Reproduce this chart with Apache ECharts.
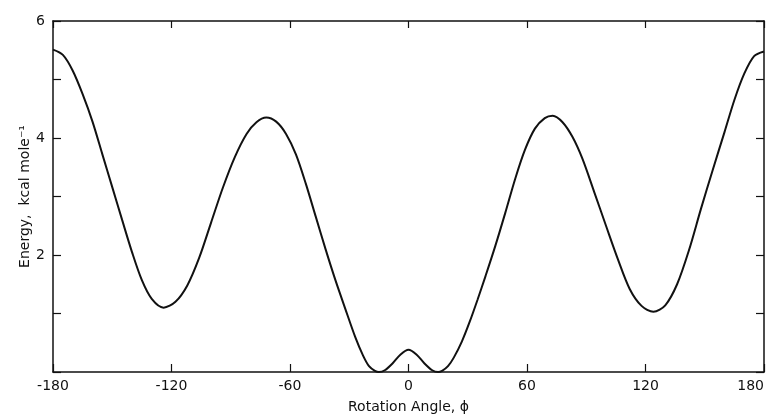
<!DOCTYPE html>
<html>
<head>
<meta charset="utf-8">
<script src="https://cdn.jsdelivr.net/npm/echarts@6/dist/echarts.min.js"></script>
<style>
  html, body { margin: 0; padding: 0; background: #fff; }
  #chart { width: 774px; height: 416px; }
</style>
</head>
<body>
<div id="chart"></div>
<script>
// rotation angle (deg)
const angles = [-180, -175, -170, -165, -160, -155, -150, -145, -140, -135,
  -130, -124, -118, -112, -106, -100, -94, -88, -82, -77, -72, -67, -62, -57,
  -52, -47, -42, -37, -32, -27, -23, -20, -17, -15, -12, -8, -4, 0, 4, 8, 12,
  15, 17, 20, 23, 27, 31, 35, 39, 44, 49, 54, 59, 64, 69, 73, 78, 83, 88, 94,
  100, 106, 112, 118, 124, 130, 136, 142, 148, 154, 160, 165, 170, 175, 180]
// energy, kcal/mole
const energies = [5.51, 5.42, 5.15, 4.75, 4.28, 3.72, 3.16, 2.60, 2.05, 1.57,
  1.25, 1.10, 1.20, 1.48, 1.95, 2.55, 3.15, 3.67, 4.07, 4.27, 4.35, 4.28, 4.07, 3.72,
  3.22, 2.66, 2.10, 1.57, 1.08, 0.60, 0.28, 0.10, 0.02, 0.0, 0.03, 0.15, 0.30, 0.38,
  0.30, 0.15, 0.03, 0.0, 0.02, 0.10, 0.25, 0.52, 0.86, 1.24, 1.64, 2.16, 2.72, 3.30,
  3.80, 4.16, 4.34, 4.38, 4.27, 4.02, 3.65, 3.08, 2.50, 1.93, 1.42, 1.13, 1.03, 1.14,
  1.50, 2.08, 2.78, 3.45, 4.10, 4.65, 5.10, 5.40, 5.48]
const xTicks = [-180, -120, -60, 0, 60, 120, 180]
const yLabels = [2, 4, 6]

const ink = '#111'
const font = 'DejaVu Sans'

const chart = echarts.init(document.getElementById('chart'))
chart.setOption({
  animation: false,
  grid: { left: 53, right: 10, top: 21, bottom: 44, outerBoundsMode: 'none', containLabel: false },
  xAxis: [
    {
      type: 'value',
      min: -180,
      max: 180,
      interval: 60,
      name: 'Rotation Angle, ϕ',
      nameLocation: 'middle',
      nameGap: 28,
      nameMoveOverlap: false,
      nameTextStyle: { color: ink, fontSize: 14, fontFamily: font },
      axisLine: { onZero: false, lineStyle: { color: ink, width: 1.5 } },
      axisTick: { inside: true, length: 8, lineStyle: { color: ink, width: 1.2 } },
      axisLabel: {
        color: ink, fontSize: 14, fontFamily: font, margin: 7,
        alignMaxLabel: 'right',
        formatter: v => (xTicks.includes(v) ? String(v) : '')
      },
      splitLine: { show: false }
    },
    {
      type: 'value',
      position: 'top',
      min: -180,
      max: 180,
      interval: 60,
      axisLine: { show: true, onZero: false, lineStyle: { color: ink, width: 1.5 } },
      axisTick: { inside: true, length: 7, lineStyle: { color: ink, width: 1.2 } },
      axisLabel: { show: false },
      splitLine: { show: false }
    }
  ],
  yAxis: [
    {
      type: 'value',
      min: 0,
      max: 6,
      interval: 1,
      name: 'Energy,  kcal mole⁻¹',
      nameLocation: 'middle',
      nameGap: 21,
      nameMoveOverlap: false,
      nameTextStyle: { color: ink, fontSize: 14, fontFamily: font },
      axisLine: { show: true, onZero: false, lineStyle: { color: ink, width: 1.5 } },
      axisTick: { show: true, inside: true, length: 8, lineStyle: { color: ink, width: 1.2 } },
      axisLabel: {
        color: ink, fontSize: 14, fontFamily: font, margin: 8,
        formatter: v => (yLabels.includes(v) ? String(v) : '')
      },
      splitLine: { show: false }
    },
    {
      type: 'value',
      position: 'right',
      min: 0,
      max: 6,
      interval: 1,
      axisLine: { show: true, onZero: false, lineStyle: { color: ink, width: 1.5 } },
      axisTick: { show: true, inside: true, length: 8, lineStyle: { color: ink, width: 1.2 } },
      axisLabel: { show: false },
      splitLine: { show: false }
    }
  ],
  series: [
    {
      type: 'line',
      data: angles.map((a, i) => [a, energies[i]]),
      smooth: 0.3,
      showSymbol: false,
      clip: false,
      lineStyle: { color: ink, width: 2 }
    }
  ]
})
</script>
</body>
</html>
